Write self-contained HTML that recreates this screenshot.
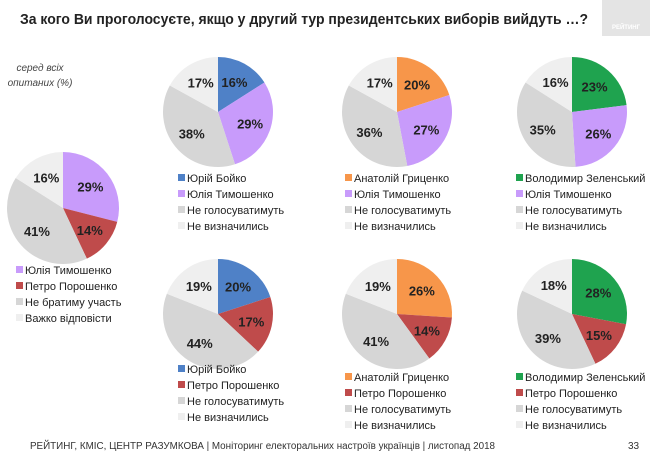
<!DOCTYPE html>
<html><head><meta charset="utf-8"><style>
body{margin:0;background:#fff;width:650px;height:456px;overflow:hidden;font-family:"Liberation Sans",sans-serif}
svg text{font-family:"Liberation Sans",sans-serif}
</style></head><body>
<svg id="s" width="650" height="456" xmlns="http://www.w3.org/2000/svg">
<rect x="602" y="0" width="48" height="36" fill="#e4e4e4"/>
<text x="626" y="29" font-size="6" fill="#fff" font-weight="bold" text-anchor="middle">РЕЙТИНГ</text>
<text x="20" y="24" font-size="14.5" font-weight="bold" fill="#222" textLength="568" lengthAdjust="spacingAndGlyphs">За кого Ви проголосуєте, якщо у другий тур президентських виборів вийдуть …?</text>
<text x="40" y="71" font-size="10" font-style="italic" fill="#444" text-anchor="middle">серед всіх</text>
<text x="40" y="86" font-size="10" font-style="italic" fill="#444" text-anchor="middle">опитаних (%)</text>
<text x="30" y="449" font-size="10" fill="#333" textLength="465" lengthAdjust="spacingAndGlyphs">РЕЙТИНГ, КМІС, ЦЕНТР РАЗУМКОВА |  Моніторинг електоральних настроїв українців | листопад 2018</text>
<text x="628" y="449" font-size="10" fill="#333">33</text>
<g id="g"></g>
</svg>
<script>
const C={b:"#4f81c7",p:"#c89bfb",r:"#bf4b4b",o:"#f7964a",g:"#1fa34f",n:"#d6d6d6",l:"#efefef"};
const pies=[
[63,208,56,[[29,'p'],[14,'r'],[41,'n'],[16,'l']]],
[218,112,55,[[16,'b'],[29,'p'],[38,'n'],[17,'l']]],
[397,112,55,[[20,'o'],[27,'p'],[36,'n'],[17,'l']]],
[572,112,55,[[23,'g'],[26,'p'],[35,'n'],[16,'l']]],
[218,314,55,[[20,'b'],[17,'r'],[44,'n'],[19,'l']]],
[397,314,55,[[26,'o'],[14,'r'],[41,'n'],[19,'l']]],
[572,314,55,[[28,'g'],[15,'r'],[39,'n'],[18,'l']]]];
const legs=[
[16,274,[['p','Юлія Тимошенко'],['r','Петро Порошенко'],['n','Не братиму участь'],['l','Важко відповісти']]],
[178,182,[['b','Юрій Бойко'],['p','Юлія Тимошенко'],['n','Не голосуватимуть'],['l','Не визначились']]],
[345,182,[['o','Анатолій Гриценко'],['p','Юлія Тимошенко'],['n','Не голосуватимуть'],['l','Не визначились']]],
[516,182,[['g','Володимир Зеленський'],['p','Юлія Тимошенко'],['n','Не голосуватимуть'],['l','Не визначились']]],
[178,373,[['b','Юрій Бойко'],['r','Петро Порошенко'],['n','Не голосуватимуть'],['l','Не визначились']]],
[345,381,[['o','Анатолій Гриценко'],['r','Петро Порошенко'],['n','Не голосуватимуть'],['l','Не визначились']]],
[516,381,[['g','Володимир Зеленський'],['r','Петро Порошенко'],['n','Не голосуватимуть'],['l','Не визначились']]]];
let h="";
for(const [cx,cy,r,sl] of pies){
 const tot=sl.reduce((a,b)=>a+b[0],0);let a=0;
 for(const [v,c] of sl){
  const a0=a/tot*2*Math.PI,a1=(a+v)/tot*2*Math.PI;a+=v;
  const x0=cx+r*Math.sin(a0),y0=cy-r*Math.cos(a0),x1=cx+r*Math.sin(a1),y1=cy-r*Math.cos(a1);
  h+=`<path d="M${cx},${cy}L${x0},${y0}A${r},${r} 0 ${a1-a0>Math.PI?1:0} 1 ${x1},${y1}Z" fill="${C[c]}"/>`;
  const am=(a0+a1)/2,tx=cx+r*0.62*Math.sin(am),ty=cy-r*0.62*Math.cos(am);
  h+=`<text x="${tx}" y="${ty+5}" font-size="13" font-weight="bold" fill="#222" text-anchor="middle">${v}%</text>`;
 }
}
for(const [x,y,it] of legs){
 it.forEach(([c,t],i)=>{const yy=y+i*16;
  h+=`<rect x="${x}" y="${yy-8}" width="7" height="7" fill="${C[c]}"/><text x="${x+9}" y="${yy}" font-size="11" fill="#222">${t}</text>`;});
}
document.getElementById('g').innerHTML=h;
</script>
</body></html>
